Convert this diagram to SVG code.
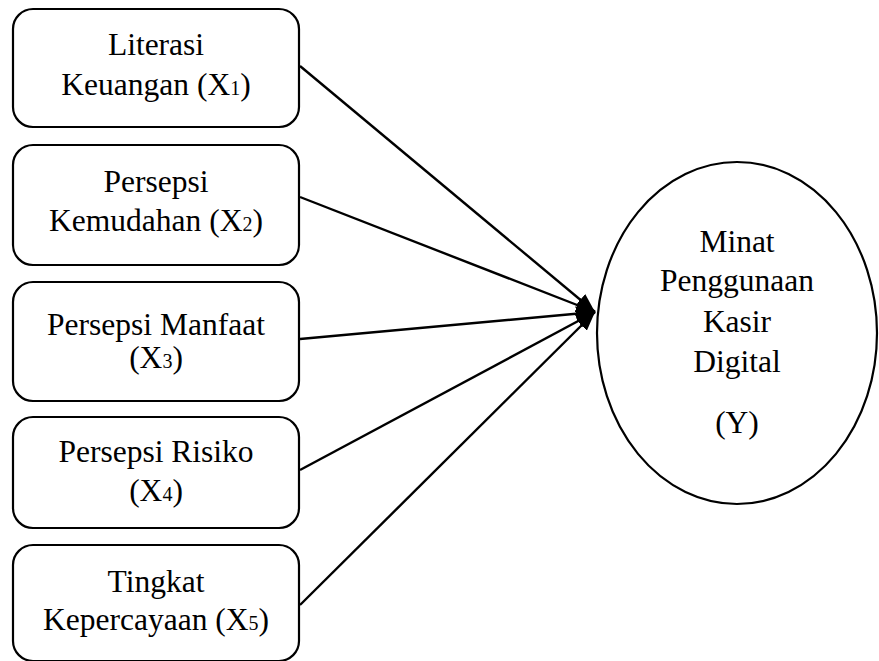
<svg xmlns="http://www.w3.org/2000/svg" width="879" height="661" viewBox="0 0 879 661">
<style>
.box{fill:#fff;stroke:#000;stroke-width:2.2}
.ell{fill:#fff;stroke:#000;stroke-width:2.2}
.t{font-family:"Liberation Serif","Times New Roman",serif;font-size:31.5px;fill:#000;text-anchor:middle}
.s{font-size:20px}
.c{stroke:#000;stroke-width:2.4;fill:none;marker-end:url(#ah)}
</style>
<defs>
<marker id="ah" viewBox="0 0 10 10" refX="10" refY="5" markerWidth="19" markerHeight="15" markerUnits="userSpaceOnUse" orient="auto" preserveAspectRatio="none">
<path d="M0,0 L10,5 L0,10 z" fill="#000"/>
</marker>
</defs>
<g id="connectors">
<line class="c" x1="300" y1="66" x2="595" y2="312"/>
<line class="c" x1="300" y1="197" x2="595" y2="312"/>
<line class="c" x1="300" y1="339" x2="595" y2="312"/>
<line class="c" x1="300" y1="470" x2="595" y2="312"/>
<line class="c" x1="300" y1="605" x2="595" y2="312"/>
</g>
<g id="x1">
<rect class="box" x="13" y="9" width="286" height="118" rx="20"/>
<text class="t" x="156" y="55">Literasi</text>
<text class="t" x="156" y="95">Keuangan (X<tspan class="s">1</tspan>)</text>
</g>
<g id="x2">
<rect class="box" x="13" y="145" width="286" height="120" rx="20"/>
<text class="t" x="156" y="192">Persepsi</text>
<text class="t" x="156" y="231">Kemudahan (X<tspan class="s">2</tspan>)</text>
</g>
<g id="x3">
<rect class="box" x="13" y="282" width="286" height="119" rx="20"/>
<text class="t" x="156" y="335">Persepsi Manfaat</text>
<text class="t" x="156" y="368">(X<tspan class="s">3</tspan>)</text>
</g>
<g id="x4">
<rect class="box" x="13" y="417" width="286" height="111" rx="20"/>
<text class="t" x="156" y="462">Persepsi Risiko</text>
<text class="t" x="156" y="501">(X<tspan class="s">4</tspan>)</text>
</g>
<g id="x5">
<rect class="box" x="13" y="545" width="286" height="116" rx="20"/>
<text class="t" x="156" y="592">Tingkat</text>
<text class="t" x="156" y="630">Kepercayaan (X<tspan class="s">5</tspan>)</text>
</g>
<g id="y">
<ellipse class="ell" cx="737" cy="333" rx="140" ry="171"/>
<text class="t" x="737" y="252">Minat</text>
<text class="t" x="737" y="291">Penggunaan</text>
<text class="t" x="737" y="332">Kasir</text>
<text class="t" x="737" y="372">Digital</text>
<text class="t" x="737" y="433">(Y)</text>
</g>
</svg>
